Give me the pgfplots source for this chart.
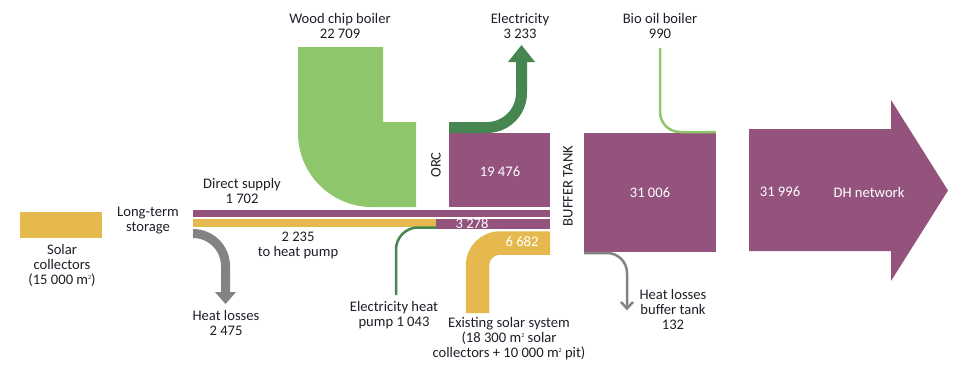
\documentclass[border=0pt]{standalone}
\usepackage{fontspec}
\setmainfont{Carlito}
\usepackage{pgfplots}
\pgfplotsset{compat=1.18}
\definecolor{purp}{RGB}{147,83,125}
\definecolor{lgreen}{RGB}{141,198,107}
\definecolor{dgreen}{RGB}{70,134,81}
\definecolor{yel}{RGB}{229,185,78}
\definecolor{gry}{RGB}{131,131,131}
\definecolor{txt}{RGB}{30,30,40}
\newcommand{\sq}{\raisebox{0.75ex}{\fontsize{6}{6}\selectfont 2}}
\begin{document}
\begin{tikzpicture}[every node/.style={font=\fontsize{14.6}{15}\selectfont, text=txt, align=center, inner sep=0pt}]
\begin{axis}[x=1pt,y=1pt,y dir=reverse,xmin=0,xmax=964,ymin=0,ymax=372,hide axis,clip=false]
\path (axis cs:0,0) rectangle (axis cs:964,372);
% solar collectors
\addplot[fill=yel,draw=none] coordinates {(20,212)(102,212)(102,238)(20,238)} -- cycle;
% wood chip boiler (thick stroke)
\addplot[draw=lgreen,line width=85pt,rounded corners=31.5pt] coordinates {(340.5,47)(340.5,164.5)(416,164.5)};
% ORC box
\addplot[fill=purp,draw=none] coordinates {(449,133)(550,133)(550,207)(449,207)} -- cycle;
% electricity
\addplot[draw=dgreen,line width=11pt,rounded corners=34.5pt] coordinates {(449,127.5)(521.5,127.5)(521.5,62)};
\addplot[fill=dgreen,draw=none] coordinates {(508,62)(535,62)(521.5,45)} -- cycle;
% direct supply bar
\addplot[fill=purp,draw=none] coordinates {(193,210)(550,210)(550,217)(193,217)} -- cycle;
% to heat pump bar
\addplot[fill=yel,draw=none] coordinates {(193,219)(436,219)(436,227)(193,227)} -- cycle;
% electricity heat pump line
\addplot[draw=dgreen,line width=2.5pt,rounded corners=22pt] coordinates {(396,295)(396,227.5)(437,227.5)};
% heat pump output bar
\addplot[fill=purp,draw=none] coordinates {(436,219)(550,219)(550,229)(436,229)} -- cycle;
% heat losses long-term storage
\addplot[draw=gry,line width=9pt,rounded corners=32.5pt] coordinates {(193,233.5)(225.5,233.5)(225.5,292.5)};
\addplot[fill=gry,draw=none] coordinates {(215,292)(236,292)(225.5,304)} -- cycle;
% existing solar system
\addplot[draw=yel,line width=23.5pt,rounded corners=22.5pt] coordinates {(477.5,313)(477.5,243)(550,243)};
% buffer tank
\addplot[fill=purp,draw=none] coordinates {(584,133)(716,133)(716,252)(584,252)} -- cycle;
% bio oil boiler
\addplot[draw=lgreen,line width=2.5pt,rounded corners=20pt] coordinates {(660,48)(660,132)(716,132)};
% buffer tank losses
\addplot[draw=gry,line width=2.5pt,rounded corners=20pt] coordinates {(584,253)(627,253)(627,308)};
\addplot[draw=gry,line width=2.5pt] coordinates {(621,302)(627,308.5)(633,302)};
% DH network arrow
\addplot[fill=purp,draw=none] coordinates {(749,129)(891,129)(891,100)(948,190.5)(891,281)(891,251)(749,251)} -- cycle;
% labels
\node at (340,25.5) {Wood chip boiler\\22 709};
\node at (520,25.5) {Electricity\\3 233};
\node at (660,26) {Bio oil boiler\\990};
\node at (242,191) {Direct supply\\1 702};
\node at (148,220.5) {Long-term\\storage};
\node at (62,265.5) {Solar\\collectors\\(15 000 m\sq)};
\node at (298,245.5) {2 235\\to heat pump};
\node at (226,322.5) {Heat losses\\2 475};
\node at (394,315.5) {Electricity heat\\pump 1 043};
\node at (509,339) {Existing solar system\\(18 300 m\sq\ solar\\collectors + 10 000 m\sq\ pit)};
\node at (673,309.5) {Heat losses\\buffer tank\\132};
\node[rotate=90] at (436,165) {ORC};
\node[rotate=90] at (568,186) {BUFFER TANK};
\node[text=white] at (500,172) {19 476};
\node[text=white] at (650,193) {31 006};
\node[text=white] at (780,192) {31 996};
\node[text=white] at (869,192) {DH network};
\node[text=white] at (472,224) {3 278};
\node[text=white] at (522,242) {6 682};
\end{axis}
\end{tikzpicture}
\end{document}
